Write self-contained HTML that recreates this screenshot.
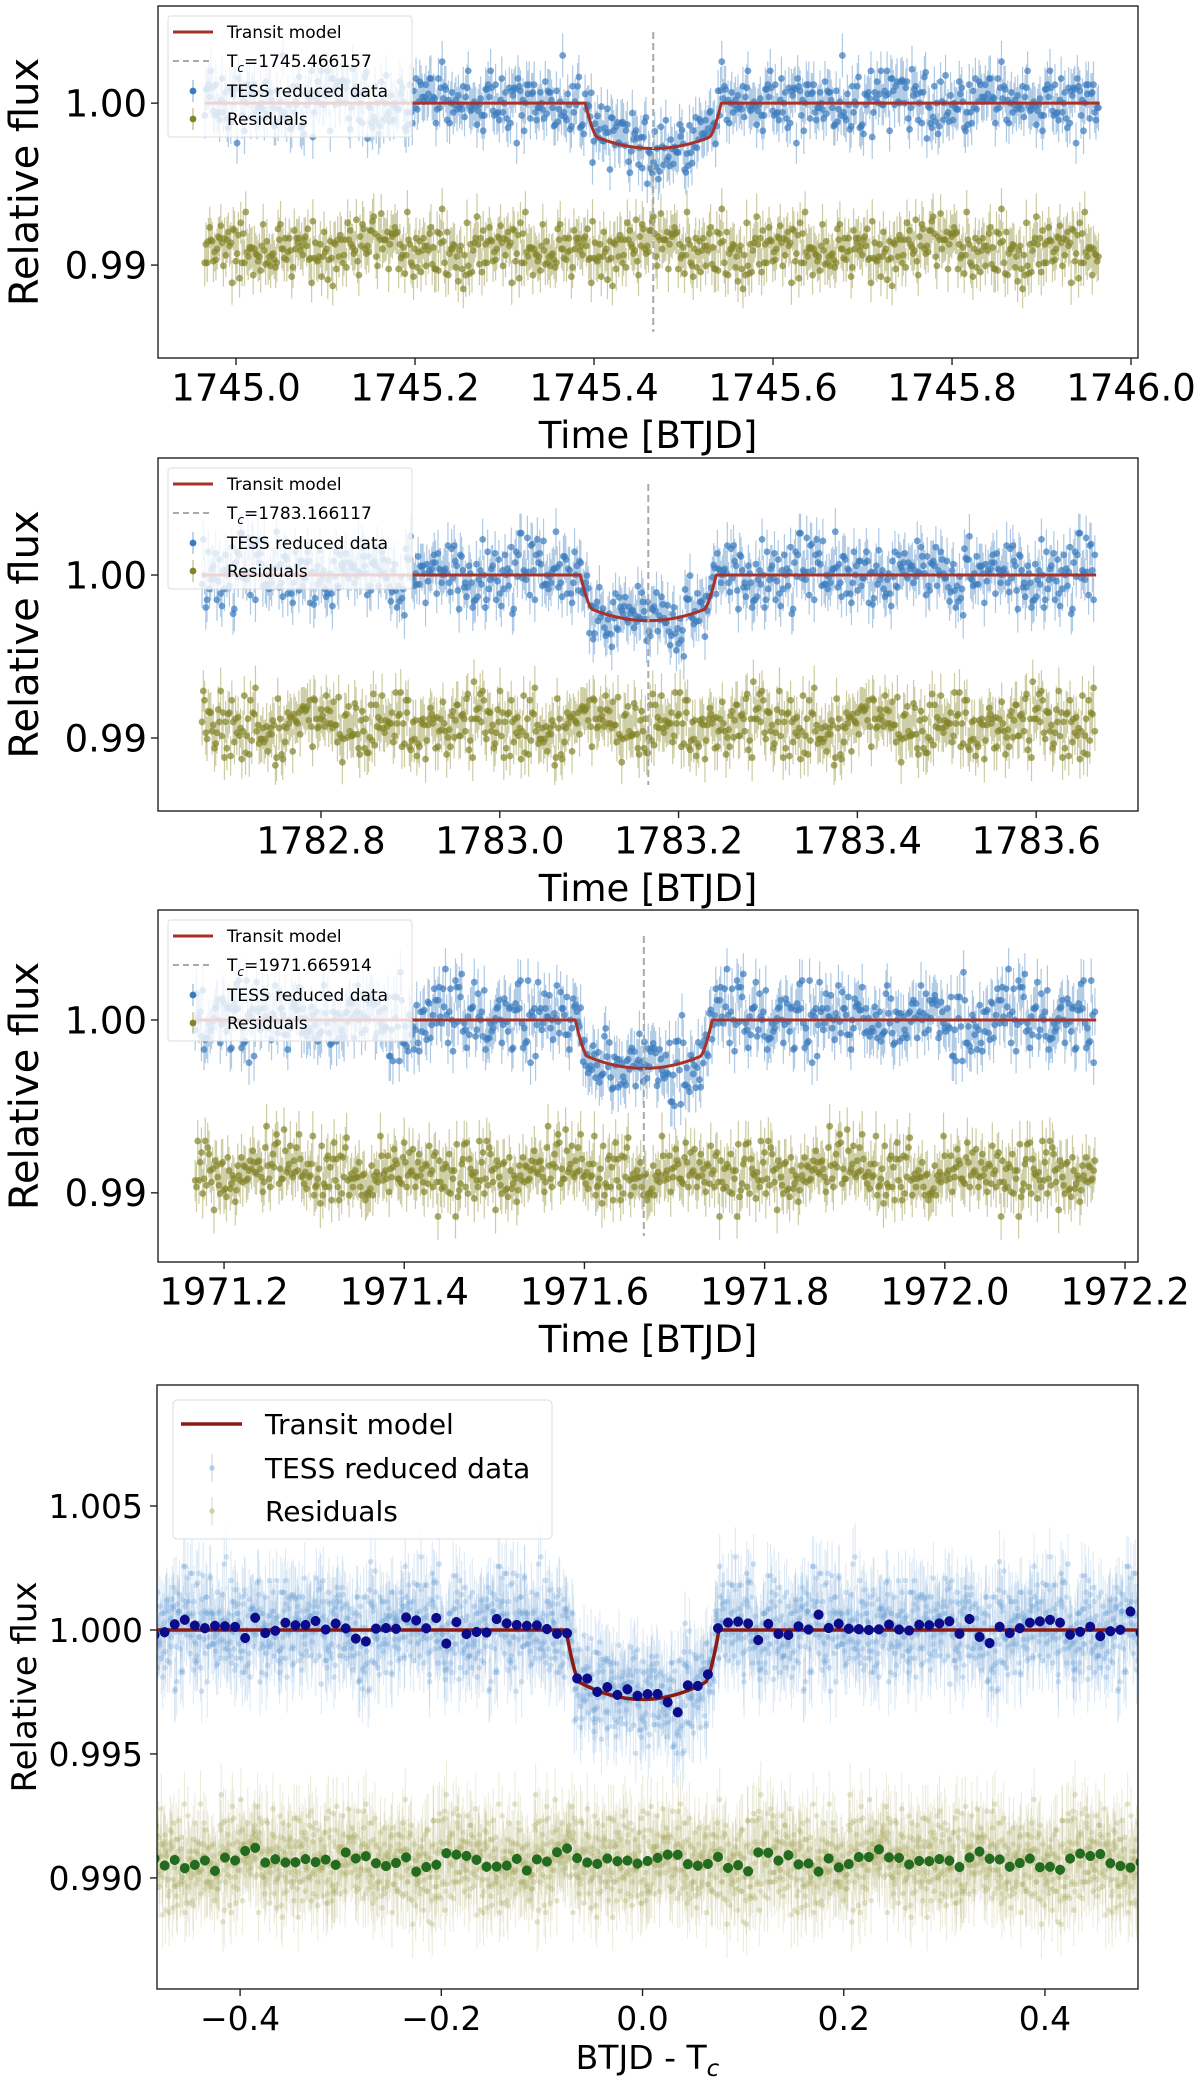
<!DOCTYPE html>
<html><head><meta charset="utf-8">
<style>
html,body{margin:0;padding:0;background:#fff;}
svg{display:block;font-family:"DejaVu Sans","Liberation Sans",sans-serif;}
</style></head>
<body>
<svg id="fig" width="1200" height="2081" viewBox="0 0 1200 2081" xmlns="http://www.w3.org/2000/svg">
<rect x="0" y="0" width="1200" height="2081" fill="#fff"/>
</svg>
<script>
// ---- data ----
const tcValues = [1745.466157, 1783.166117, 1971.665914];
const tStartValues = [1744.965, 1782.667, 1971.168];
const nPointsPerTransit = [720, 720, 720];
const residualOffsets = [0.9909, 0.9907, 0.9911];
const foldedResidualOffset = 0.9906;
const transitDepth = [0.00280];
const transitDuration = [0.152];
const ingressDuration = [0.014];
const xTicks1 = [1745.0, 1745.2, 1745.4, 1745.6, 1745.8, 1746.0];
const xTickLabels1 = ["1745.0","1745.2","1745.4","1745.6","1745.8","1746.0"];
const xTicks2 = [1782.8, 1783.0, 1783.2, 1783.4, 1783.6];
const xTickLabels2 = ["1782.8","1783.0","1783.2","1783.4","1783.6"];
const xTicks3 = [1971.2, 1971.4, 1971.6, 1971.8, 1972.0, 1972.2];
const xTickLabels3 = ["1971.2","1971.4","1971.6","1971.8","1972.0","1972.2"];
const yTicksTop = [0.99, 1.00];
const yTickLabelsTop = ["0.99","1.00"];
const xTicks4 = [-0.4, -0.2, 0.0, 0.2, 0.4];
const xTickLabels4 = ["\u22120.4","\u22120.2","0.0","0.2","0.4"];
const yTicks4 = [0.990, 0.995, 1.000, 1.005];
const yTickLabels4 = ["0.990","0.995","1.000","1.005"];
const binWidth = [0.01];
// noise values in units of 1e-4 relative flux
const noiseValues = [3,-7,12,-2,5,-11,0,8,-4,-15,6,2,-9,14,-1,-6,10,-3,4,-12,7,1,-5,16,-8,3,-2,9,-13,0,5,-7,11,-4,2,-10,6,-1,13,-6,-3,8,-14,4,1,-9,7,-2,17,-5,0,10,-8,3,-11,6,-4,12,-1,-7,9,2,-16,5,-3,7,-10,1,14,-6,4,-2,8,-12,0,11,-5,3,-9,6,-1,15,-7,2,-4,10,-13,5,1,-8,7,-3,12,-6,0,9,-11,4,-2,13,-5,3,-15,8,1,-7,6,-4,11,-9,2,-1,14,-6,5,-10,3,0,-8,12,-3,7,-12,1,9,-5,4,-2,16,-9,6,-1,-11,8,2,-6,10,-4,0,13,-7,5,-3,11,-14,3,1,-5,9,-8,6,-2,12,-10,4,0,-7,15,-4,2,-9,7,-1,10,-12,5,3,-6,8,-3,1,-13,11,-5,4,-2,9,-8,0,14,-6,3,-10,7,-1,12,-4,2,-11,6,-3,8,-7,1,16,-9,5,-2,10,-5,0,-12,7,4,-8,11,-1,3,-6,13,-10,2,-4,9,-3,5,-14,8,1,-7,6,-2,12,-9,4];

// ---- layout ----
const NS = "http://www.w3.org/2000/svg";
const svg = document.getElementById('fig');
function mk(tag, attrs, parent){ const e=document.createElementNS(NS,tag); for(const k in attrs) e.setAttribute(k,attrs[k]); (parent||svg).appendChild(e); return e; }

const panels = [
  {box:[158,6,1138,358], xlim:[1744.9128,1746.0078], ylim:[0.98426,1.006], xt:xTicks1, xtl:xTickLabels1},
  {box:[158,458,1138,811], xlim:[1782.6177,1783.7139], ylim:[0.98552,1.00718], xt:xTicks2, xtl:xTickLabels2},
  {box:[158,910,1138,1262], xlim:[1971.1267,1972.2144], ylim:[0.9860,1.00636], xt:xTicks3, xtl:xTickLabels3},
];
const p4 = {box:[157,1385,1138,1989], xlim:[-0.4826,0.4925], ylim:[0.98552,1.00988]};

function sx(p,v){ return p.box[0]+(v-p.xlim[0])/(p.xlim[1]-p.xlim[0])*(p.box[2]-p.box[0]); }
function sy(p,v){ return p.box[3]-(v-p.ylim[0])/(p.ylim[1]-p.ylim[0])*(p.box[3]-p.box[1]); }

function model(dt){
  const half = transitDuration[0]/2, tau = ingressDuration[0];
  const a = Math.abs(dt);
  if (a >= half) return 1;
  let d = transitDepth[0]*(1-0.3*Math.pow(Math.min(a/(half-tau*0.5),1),2));
  if (a > half - tau){ const f=(half-a)/tau; d *= Math.sin(f*Math.PI/2); }
  return 1-d;
}
const N = noiseValues.length;
function nz(i,p,a,b,c,d){ return (noiseValues[(i*a+p*b)%N] + noiseValues[(i*c+p*d+5)%N])*0.95e-4; }
function errHalf(i,p){ return 0.0012 + (Math.abs(noiseValues[(i*3+p)%N])%4)*0.00008; }

const datasets = [];
for (let p=0;p<3;p++){
  const pts=[];
  for (let i=0;i<nPointsPerTransit[p];i++){
    const t = tStartValues[p] + i/720;
    const dt = t - tcValues[p];
    const r = nz(i,p,29,17,13,5);
    const f = model(dt) + nz(i,p,37,53,11,7);
    pts.push({t, dt, f, res: residualOffsets[p]+r, resRaw:r, e:errHalf(i,p)});
  }
  datasets.push(pts);
}

function clip(id,p){
  const defs = mk('defs',{});
  const cp = mk('clipPath',{id:id},defs);
  mk('rect',{x:p.box[0],y:p.box[1],width:p.box[2]-p.box[0],height:p.box[3]-p.box[1]},cp);
}

function drawAxes(p, xt, xtl, yt, ytl, fs, name, xlabelY, xlabel, ylabX, ylabFs, ytX){
  const g = mk('g',{});
  
  
  const fr = mk('rect',{x:p.box[0],y:p.box[1],width:p.box[2]-p.box[0],height:p.box[3]-p.box[1],fill:'none',stroke:'#222','stroke-width':1.4},g);
  
  
  xt.forEach((v,k)=>{
    const x=sx(p,v);
    const tk = mk('line',{x1:x,x2:x,y1:p.box[3],y2:p.box[3]+7,stroke:'#222','stroke-width':1.4},g);
    
    
    const tl = mk('text',{x:x,y:p.box[3]+29+fs*0.36,'font-size':fs,'text-anchor':'middle',fill:'#000'},g);
    tl.textContent = xtl[k];
    
    
  });
  yt.forEach((v,k)=>{
    const y=sy(p,v);
    const tk = mk('line',{x1:p.box[0]-7,x2:p.box[0],y1:y,y2:y,stroke:'#222','stroke-width':1.4},g);
    
    
    const tl = mk('text',{x:ytX,y:y+fs*0.36,'font-size':fs,'text-anchor':'end',fill:'#000'},g);
    tl.textContent = ytl[k];
    
    
  });
  const yl = mk('text',{x:0,y:0,'font-size':ylabFs,'text-anchor':'middle',fill:'#000',transform:`translate(${ylabX},${(p.box[1]+p.box[3])/2}) rotate(-90)`},g);
  yl.textContent='Relative flux';
  
  
  const xl = mk('text',{x:(p.box[0]+p.box[2])/2,y:xlabelY,'font-size':fs,'text-anchor':'middle',fill:'#000'},g);
  xl.innerHTML = xlabel;
  
  
}

panels.forEach((p,k)=>{
  const name='panel-'+(k+1);
  clip('clip'+k,p);
  const g = mk('g',{'clip-path':`url(#clip${k})`});
  
  
  const gb = mk('g',{},g);
  
  
  const gr = mk('g',{},g);
  
  
  datasets[k].forEach(d=>{
    const x=sx(p,d.t);
    const e1 = mk('line',{x1:x,x2:x,y1:sy(p,d.f+d.e),y2:sy(p,d.f-d.e),stroke:'#4a87c4','stroke-opacity':0.45,'stroke-width':1.2},gb);
    
    
    const c1 = mk('circle',{cx:x,cy:sy(p,d.f),r:3.4,fill:'#3b7bbd','fill-opacity':0.7},gb);
    
    
    const e2 = mk('line',{x1:x,x2:x,y1:sy(p,d.res+d.e),y2:sy(p,d.res-d.e),stroke:'#8f8f30','stroke-opacity':0.45,'stroke-width':1.2},gr);
    
    
    const c2 = mk('circle',{cx:x,cy:sy(p,d.res),r:3.4,fill:'#83832a','fill-opacity':0.7},gr);
    
    
  });
  let path='';
  const t0=tStartValues[k], nn=nPointsPerTransit[k];
  for(let i=0;i<=nn*2;i++){ const t=t0+i/1440; path+=(i?'L':'M')+sx(p,t).toFixed(1)+','+sy(p,model(t-tcValues[k])).toFixed(1); }
  const ml = mk('path',{d:path,fill:'none',stroke:'#a8312a','stroke-width':3},g);
  
  
  const tx = sx(p,tcValues[k]);
  const tcl = mk('line',{x1:tx,x2:tx,y1:sy(p,p.ylim[1])+26,y2:p.box[3]-26,stroke:'#aaa','stroke-width':2,'stroke-dasharray':'7,4'},g);
  
  
  drawAxes(p, p.xt, p.xtl, yTicksTop, yTickLabelsTop, 37, name, p.box[3]+90, 'Time [BTJD]', 38, 40, 147);
  const L = mk('g',{});
  
  
  const bx=168, by=p.box[1]+10;
  mk('rect',{x:bx,y:by,width:244,height:121,rx:3,fill:'#fff','fill-opacity':0.8,stroke:'#ddd'},L);
  const rows=[by+16,by+45,by+75,by+103];
  mk('line',{x1:173,x2:213,y1:rows[0],y2:rows[0],stroke:'#a8312a','stroke-width':3},L);
  mk('line',{x1:173,x2:213,y1:rows[1],y2:rows[1],stroke:'#aaa','stroke-width':2,'stroke-dasharray':'6,4'},L);
  mk('line',{x1:193,x2:193,y1:rows[2]-11,y2:rows[2]+11,stroke:'#4a87c4','stroke-opacity':0.6,'stroke-width':1.2},L);
  mk('circle',{cx:193,cy:rows[2],r:3.4,fill:'#3b7bbd'},L);
  mk('line',{x1:193,x2:193,y1:rows[3]-11,y2:rows[3]+11,stroke:'#8f8f30','stroke-opacity':0.6,'stroke-width':1.2},L);
  mk('circle',{cx:193,cy:rows[3],r:3.4,fill:'#83832a'},L);
  const labels=['Transit model','T<tspan font-style="italic" font-size="12" dy="5">c</tspan><tspan dy="-5">='+tcValues[k].toFixed(6)+'</tspan>','TESS reduced data','Residuals'];
  const lnames=['legend-transit-model','legend-tc','legend-tess-data','legend-residuals'];
  labels.forEach((s,j)=>{
    const t=mk('text',{x:227,y:rows[j]+6,'font-size':17,fill:'#000'},L);
    t.innerHTML=s;
    
    
  });
});

clip('clip4',p4);
const g4 = mk('g',{'clip-path':'url(#clip4)'});


const gb4 = mk('g',{},g4);


const gr4 = mk('g',{},g4);


const all=[];
datasets.forEach(ds=>ds.forEach(d=>all.push(d)));
all.forEach(d=>{
  const x=sx(p4,d.dt);
  const rv = foldedResidualOffset + d.resRaw;
  const e1=mk('line',{x1:x,x2:x,y1:sy(p4,d.f+d.e),y2:sy(p4,d.f-d.e),stroke:'#6a9fd4','stroke-opacity':0.22,'stroke-width':1.1},gb4);
  
  
  const c1=mk('circle',{cx:x,cy:sy(p4,d.f),r:2.8,fill:'#6a9fd4','fill-opacity':0.3},gb4);
  
  
  const e2=mk('line',{x1:x,x2:x,y1:sy(p4,rv+d.e),y2:sy(p4,rv-d.e),stroke:'#a8a860','stroke-opacity':0.22,'stroke-width':1.1},gr4);
  
  
  const c2=mk('circle',{cx:x,cy:sy(p4,rv),r:2.8,fill:'#a8a860','fill-opacity':0.3},gr4);
  
  
});
let mp='';
for(let i=0;i<=1000;i++){ const t=p4.xlim[0]+i*(p4.xlim[1]-p4.xlim[0])/1000; mp+=(i?'L':'M')+sx(p4,t).toFixed(1)+','+sy(p4,model(t)).toFixed(1); }
const ml4=mk('path',{d:mp,fill:'none',stroke:'#8b1a12','stroke-width':3.5},g4);


const bw=binWidth[0];
for(let b=Math.floor(p4.xlim[0]/bw); b*bw<=p4.xlim[1]; b++){
  const lo=b*bw, hi=lo+bw;
  const sel=all.filter(d=>d.dt>=lo&&d.dt<hi);
  if(!sel.length) continue;
  const mf=sel.reduce((s,d)=>s+d.f,0)/sel.length;
  const mr=foldedResidualOffset+sel.reduce((s,d)=>s+d.resRaw,0)/sel.length;
  const x=sx(p4,lo+bw/2);
  const eb=0.0002;
  const l1=mk('line',{x1:x,x2:x,y1:sy(p4,mf+eb),y2:sy(p4,mf-eb),stroke:'#0c0c8a','stroke-width':3},g4);
  
  
  const c1=mk('circle',{cx:x,cy:sy(p4,mf),r:5,fill:'#0c0c8a'},g4);
  
  
  const l2=mk('line',{x1:x,x2:x,y1:sy(p4,mr+eb),y2:sy(p4,mr-eb),stroke:'#236b1e','stroke-width':3},g4);
  
  
  const c2=mk('circle',{cx:x,cy:sy(p4,mr),r:5,fill:'#236b1e'},g4);
  
  
}
drawAxes(p4, xTicks4, xTickLabels4, yTicks4, yTickLabels4, 33, 'panel-4', 2069, 'BTJD - T<tspan font-style="italic" font-size="23" dy="7">c</tspan>', 36, 34, 143);
const L4=mk('g',{});


mk('rect',{x:173,y:1400,width:379,height:139,rx:4,fill:'#fff','fill-opacity':0.8,stroke:'#ddd'},L4);
const r4=[1424,1468,1511];
mk('line',{x1:181,x2:242,y1:r4[0],y2:r4[0],stroke:'#8b1a12','stroke-width':3.5},L4);
mk('line',{x1:212,x2:212,y1:r4[1]-14,y2:r4[1]+14,stroke:'#6a9fd4','stroke-opacity':0.35,'stroke-width':1.2},L4);
mk('circle',{cx:212,cy:r4[1],r:2.8,fill:'#6a9fd4','fill-opacity':0.45},L4);
mk('line',{x1:212,x2:212,y1:r4[2]-14,y2:r4[2]+14,stroke:'#a8a860','stroke-opacity':0.35,'stroke-width':1.2},L4);
mk('circle',{cx:212,cy:r4[2],r:2.8,fill:'#a8a860','fill-opacity':0.45},L4);
['Transit model','TESS reduced data','Residuals'].forEach((s,j)=>{
  const t=mk('text',{x:265,y:r4[j]+10,'font-size':28,fill:'#000'},L4);
  t.textContent=s;
  
  
});
</script>
</body></html>
